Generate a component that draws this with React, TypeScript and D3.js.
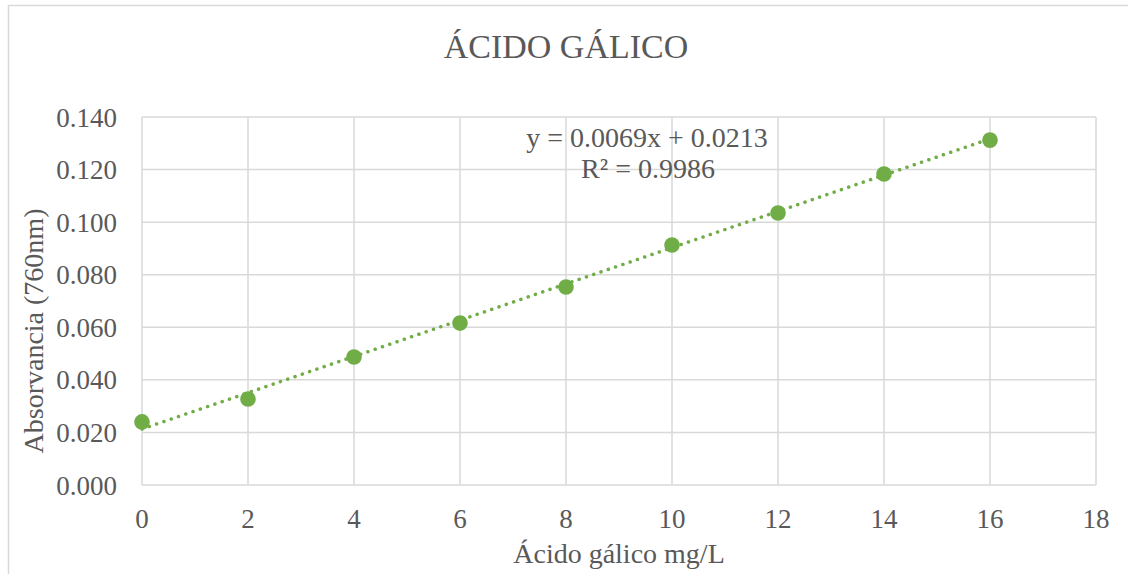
import React, { useEffect, useRef } from 'react';
import * as d3 from 'd3';

const concentrations = [0, 2, 4, 6, 8, 10, 12, 14, 16];
const absorbance = [0.024, 0.0327, 0.0487, 0.0616, 0.0753, 0.0913, 0.1035, 0.1183, 0.1312];
const xTicks = [0, 2, 4, 6, 8, 10, 12, 14, 16, 18];
const yTicks = [0, 0.02, 0.04, 0.06, 0.08, 0.1, 0.12, 0.14];
const slope = 0.0069;
const intercept = 0.0213;

const W = 1128;
const H = 574;
const FONT = '"Liberation Serif", "Times New Roman", serif';
const TXT = '#595959';
const GRID = '#d9d9d9';
const GREEN = '#70ad47';

const App: React.FC = () => {
  const ref = useRef<SVGSVGElement>(null);

  useEffect(() => {
    if (!ref.current) return;
    const svg = d3.select(ref.current);
    svg.selectAll('*').remove();

    const left = 142, right = 1096, top = 117, bottom = 485;
    const x = d3.scaleLinear().domain([0, 18]).range([left, right]);
    const y = d3.scaleLinear().domain([0, 0.14]).range([bottom, top]);

    svg.append('rect').attr('width', W).attr('height', H).attr('fill', '#fff');
    // chart border (cropped at right/bottom)
    svg.append('path')
      .attr('d', `M8.5,${H} V5.5 H${W}`)
      .attr('fill', 'none').attr('stroke', GRID).attr('stroke-width', 1.5);

    // grid
    svg.append('g').selectAll('line').data(yTicks).enter().append('line')
      .attr('x1', left).attr('x2', right)
      .attr('y1', d => y(d)).attr('y2', d => y(d))
      .attr('stroke', GRID).attr('stroke-width', 1.5);
    svg.append('g').selectAll('line').data(xTicks).enter().append('line')
      .attr('x1', d => x(d)).attr('x2', d => x(d))
      .attr('y1', top).attr('y2', bottom)
      .attr('stroke', GRID).attr('stroke-width', 1.5);

    // tick labels
    svg.append('g').selectAll('text').data(yTicks).enter().append('text')
      .attr('x', 117).attr('y', d => y(d) + 9.5)
      .attr('text-anchor', 'end')
      .attr('font-family', FONT).attr('font-size', 27).attr('fill', TXT)
      .text(d => d.toFixed(3));
    svg.append('g').selectAll('text').data(xTicks).enter().append('text')
      .attr('x', d => x(d)).attr('y', 528)
      .attr('text-anchor', 'middle')
      .attr('font-family', FONT).attr('font-size', 27).attr('fill', TXT)
      .text(d => String(d));

    // titles
    svg.append('text').attr('x', 566).attr('y', 58)
      .attr('text-anchor', 'middle').attr('font-family', FONT).attr('font-size', 34).attr('fill', TXT)
      .text('ÁCIDO GÁLICO');
    svg.append('text').attr('x', 619).attr('y', 563)
      .attr('text-anchor', 'middle').attr('font-family', FONT).attr('font-size', 28).attr('fill', TXT)
      .text('Ácido gálico mg/L');
    svg.append('text')
      .attr('transform', `translate(43,${(top + bottom) / 2 + 30}) rotate(-90)`)
      .attr('text-anchor', 'middle').attr('font-family', FONT).attr('font-size', 28).attr('fill', TXT)
      .text('Absorvancia (760nm)');

    // points
    const pts = concentrations.map((c, i) => ({ c, a: absorbance[i] }));
    svg.append('g').selectAll('circle').data(pts).enter().append('circle')
      .attr('cx', d => x(d.c)).attr('cy', d => y(d.a)).attr('r', 7.8)
      .attr('fill', GREEN);

    // trendline
    const x0 = d3.min(concentrations)!, x1 = d3.max(concentrations)!;
    const line = d3.line<number>().x(d => x(d)).y(d => y(slope * d + intercept));
    svg.append('path').datum([x0, x1])
      .attr('d', line)
      .attr('fill', 'none').attr('stroke', GREEN).attr('stroke-width', 3.5)
      .attr('stroke-linecap', 'round').attr('stroke-dasharray', '0.1 7.6');

    // equation
    const eq = svg.append('g').attr('font-family', FONT).attr('font-size', 28).attr('fill', TXT)
      .attr('text-anchor', 'middle');
    eq.append('text').attr('x', 647).attr('y', 147).text(`y = ${slope.toFixed(4)}x + ${intercept.toFixed(4)}`);
    eq.append('text').attr('x', 648).attr('y', 178).text('R² = 0.9986');
  }, []);

  return (
    <div style={{ position: 'absolute', left: 0, top: 0 }}>
      <svg ref={ref} width={W} height={H} style={{ display: 'block' }}></svg>
    </div>
  );
};

export default App;
